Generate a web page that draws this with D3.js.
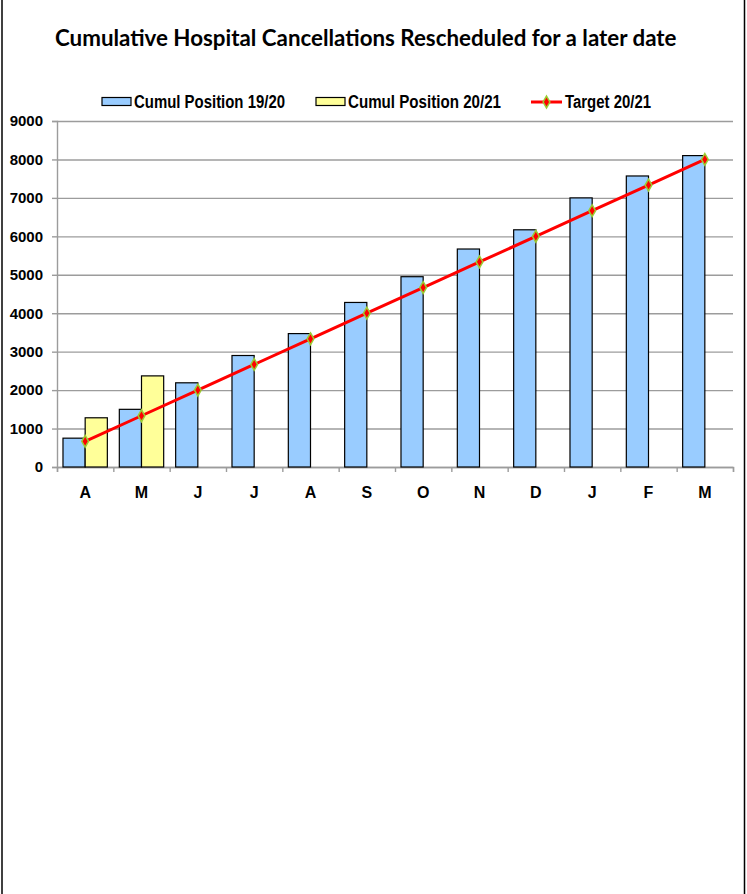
<!DOCTYPE html>
<html>
<head>
<meta charset="utf-8">
<script src="https://cdn.jsdelivr.net/npm/d3@7"></script>
<style>
  body { margin: 0; background: #fff; }
  svg { display: block; }
</style>
</head>
<body>
<svg id="chart" width="747" height="894"></svg>
<script>
// Month initials, April to March
const months = ["A", "M", "J", "J", "A", "S", "O", "N", "D", "J", "F", "M"];
// Cumulative rescheduled cancellations, 2019/20
const cumul1920 = [750, 1500, 2190, 2900, 3470, 4280, 4950, 5670, 6170, 7000, 7570, 8100];
// Cumulative rescheduled cancellations, 2020/21 (year to date)
const cumul2021 = [1280, 2370, null, null, null, null, null, null, null, null, null, null];
// Cumulative target, 2020/21
const target2021 = [667, 1333, 2000, 2667, 3333, 4000, 4667, 5333, 6000, 6667, 7333, 8000];
const yTicks = [0, 1000, 2000, 3000, 4000, 5000, 6000, 7000, 8000, 9000];
const seriesNames = ["Cumul Position 19/20", "Cumul Position 20/21", "Target 20/21"];

const svg = d3.select("#chart");
const W = 747, H = 894;
const plot = { left: 57, right: 733, top: 121, bottom: 467 };

const blue = "#99CCFF", yellow = "#FFFF99", red = "#FF0000", markerEdge = "#9ACD32";
const gridColor = "#9c9c9c";
const sans = "'Liberation Sans', Arial, sans-serif";

// Squeeze a text element to a given width (condensed bold look)
function fitWidth(sel, width) {
  sel.attr("textLength", width).attr("lengthAdjust", "spacingAndGlyphs");
}

// Side borders of the frame
svg.append("line").attr("x1", 2).attr("x2", 2).attr("y1", 0).attr("y2", H)
  .attr("stroke", "#000").attr("stroke-width", 1.5);
svg.append("line").attr("x1", 744.5).attr("x2", 744.5).attr("y1", 0).attr("y2", H)
  .attr("stroke", "#000").attr("stroke-width", 1.5);

// Title
const title = svg.append("text")
  .attr("x", 55).attr("y", 46)
  .attr("font-family", "Lato, 'Open Sans', sans-serif")
  .attr("font-weight", "bold")
  .attr("font-size", 20)
  .attr("fill", "#000")
  .text("Cumulative Hospital Cancellations Rescheduled for a later date");
const tw = title.node().getComputedTextLength();
title.attr("font-size", 20 * 622 / tw);

// Scales
const idx = d3.range(months.length);
const x = d3.scaleBand().domain(idx).range([plot.left, plot.right]).padding(0);
const xEdge = d3.scaleLinear().domain([0, months.length]).range([plot.left, plot.right]);
const xSub = d3.scaleBand().domain([0, 1]).range([0, x.bandwidth()]).paddingInner(0).paddingOuter(0.27);
const y = d3.scaleLinear().domain([0, 9000]).range([plot.bottom, plot.top]);

// Horizontal gridlines
svg.append("g")
  .attr("transform", `translate(${plot.left},0)`)
  .call(d3.axisLeft(y).tickValues(yTicks).tickSize(-(plot.right - plot.left)).tickFormat(""))
  .call(g => g.select(".domain").remove())
  .call(g => g.selectAll("line").attr("stroke", gridColor).attr("stroke-width", 1.4));

// Y axis with labels
svg.append("g")
  .attr("transform", `translate(${plot.left},0)`)
  .call(d3.axisLeft(y).tickValues(yTicks).tickSize(5).tickPadding(9).tickFormat(d3.format("d")))
  .call(g => g.select(".domain").attr("stroke", gridColor).attr("stroke-width", 1.4))
  .call(g => g.selectAll("line").attr("stroke", gridColor).attr("stroke-width", 1.4))
  .call(g => g.selectAll("text")
    .attr("font-family", sans).attr("font-weight", "bold")
    .attr("font-size", 15).attr("fill", "#000"));

// X axis: tick marks between categories
svg.append("g")
  .attr("transform", `translate(0,${plot.bottom})`)
  .call(d3.axisBottom(xEdge).tickValues(d3.range(months.length + 1)).tickSize(5).tickFormat(""))
  .call(g => g.select(".domain").attr("stroke", gridColor).attr("stroke-width", 1.4))
  .call(g => g.selectAll("line").attr("stroke", gridColor).attr("stroke-width", 1.4));

// X axis: month labels centred under each category
svg.append("g")
  .attr("transform", `translate(0,${plot.bottom})`)
  .call(d3.axisBottom(x).tickSize(0).tickPadding(19.5).tickFormat(i => months[i]))
  .call(g => g.select(".domain").remove())
  .call(g => g.selectAll("text")
    .attr("font-family", sans).attr("font-weight", "bold")
    .attr("font-size", 16).attr("fill", "#000"));

// Bars
const barData = [];
idx.forEach(i => {
  if (cumul1920[i] != null) barData.push({ i, s: 0, v: cumul1920[i], fill: blue });
  if (cumul2021[i] != null) barData.push({ i, s: 1, v: cumul2021[i], fill: yellow });
});
svg.append("g").selectAll("rect")
  .data(barData)
  .join("rect")
  .attr("x", d => x(d.i) + xSub(d.s))
  .attr("y", d => y(d.v))
  .attr("width", xSub.bandwidth())
  .attr("height", d => y(0) - y(d.v))
  .attr("fill", d => d.fill)
  .attr("stroke", "#000")
  .attr("stroke-width", 1.2);

// Target line with markers
const cx = i => x(i) + x.bandwidth() / 2;
svg.append("path")
  .datum(idx)
  .attr("fill", "none")
  .attr("stroke", red)
  .attr("stroke-width", 3)
  .attr("d", d3.line().x(i => cx(i)).y(i => y(target2021[i])));

const diamond = d3.symbol().type(d3.symbolDiamond).size(40);
svg.append("g").selectAll("path")
  .data(idx)
  .join("path")
  .attr("transform", i => `translate(${cx(i)},${y(target2021[i])})`)
  .attr("d", diamond)
  .attr("fill", red)
  .attr("stroke", markerEdge)
  .attr("stroke-width", 1.5);

// Legend
const legend = svg.append("g").attr("font-family", sans).attr("font-weight", "bold").attr("font-size", 17.5);
[[102, blue, 151], [316, yellow, 153]].forEach(([lx, c, w], k) => {
  legend.append("rect").attr("x", lx).attr("y", 97.5).attr("width", 29).attr("height", 8)
    .attr("fill", c).attr("stroke", "#000").attr("stroke-width", 1.2);
  legend.append("text").attr("x", lx + 32).attr("y", 108).text(seriesNames[k]).call(fitWidth, w);
});
legend.append("line").attr("x1", 531).attr("x2", 562).attr("y1", 102).attr("y2", 102)
  .attr("stroke", red).attr("stroke-width", 3);
legend.append("path").attr("transform", "translate(546.5,102)").attr("d", diamond)
  .attr("fill", red).attr("stroke", markerEdge).attr("stroke-width", 1.5);
legend.append("text").attr("x", 565).attr("y", 108).text(seriesNames[2]).call(fitWidth, 86);
</script>
</body>
</html>
